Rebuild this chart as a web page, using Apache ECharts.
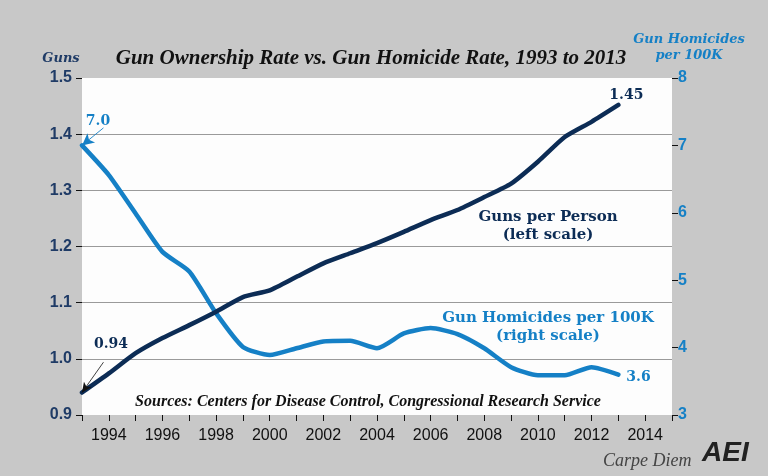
<!DOCTYPE html>
<html><head><meta charset="utf-8">
<script src="https://cdn.jsdelivr.net/npm/echarts@6/dist/echarts.min.js"></script>
<style>html,body{margin:0;padding:0;background:#c8c8c8;}#c{width:768px;height:476px;}</style>
</head><body><div id="c"></div>
<script>
const years = [1993,1994,1995,1996,1997,1998,1999,2000,2001,2002,2003,2004,2005,2006,2007,2008,2009,2010,2011,2012,2013];
const gunsPerPerson = [0.94,0.974,1.01,1.037,1.06,1.084,1.11,1.122,1.146,1.17,1.188,1.206,1.226,1.247,1.265,1.288,1.312,1.351,1.395,1.422,1.452];
const homicidesPer100K = [7.0,6.56,5.99,5.42,5.13,4.51,4.01,3.89,3.99,4.09,4.10,3.99,4.21,4.29,4.20,3.99,3.71,3.59,3.59,3.71,3.6];
const leftTicks = [0.9,1.0,1.1,1.2,1.3,1.4,1.5];
const rightTicks = [3,4,5,6,7,8];
const NAVY = '#0c2c55', BLUE = '#1580c6';
const serif = '"DejaVu Serif", serif';
const sans = '"Liberation Sans", Arial, sans-serif';

const chart = echarts.init(document.getElementById('c'), null, {renderer:'canvas'});
const gunData = years.map((y,i) => [y, gunsPerPerson[i]]);
const homData = years.map((y,i) => [y, homicidesPer100K[i]]);

chart.setOption({
  animation:false,
  backgroundColor:'#c8c8c8',
  grid:{left:82, right:96, top:78, bottom:61, show:true, backgroundColor:'#fdfdfd', borderWidth:0},
  xAxis:{type:'value', min:1993, max:2015, interval:1,
    axisLine:{show:false},
    axisTick:{show:true, length:6, lineStyle:{color:'#111'}},
    splitLine:{show:false},
    axisLabel:{color:'#111', fontFamily:sans, fontSize:16, margin:13, formatter:v => v % 2 === 0 ? String(v) : ''}},
  yAxis:[
    {type:'value', min:leftTicks[0], max:leftTicks[leftTicks.length-1], interval:0.1,
      axisLine:{show:false},
      axisTick:{show:true, length:6, lineStyle:{color:'#111'}},
      splitLine:{show:true, showMinLine:false, showMaxLine:false, lineStyle:{color:'#9a9a9a', width:1}},
      axisLabel:{color:'#1f3b66', fontFamily:sans, fontWeight:'bold', fontSize:16, margin:10, formatter:v => v.toFixed(1)}},
    {type:'value', min:rightTicks[0], max:rightTicks[rightTicks.length-1], interval:1, position:'right',
      axisLine:{show:false},
      axisTick:{show:true, length:6, lineStyle:{color:'#111'}},
      splitLine:{show:false},
      axisLabel:{color:BLUE, fontFamily:sans, fontWeight:'bold', fontSize:16, margin:6}}
  ],
  series:[
    {type:'line', name:'Guns per Person', yAxisIndex:0, data:gunData, showSymbol:false, symbol:'none', smooth:0.2,
      lineStyle:{color:NAVY, width:4.5, cap:'round', join:'round'}, z:3,
      endLabel:{show:true, formatter:() => gunsPerPerson[gunsPerPerson.length-1].toFixed(2), offset:[-17,-10],
        color:NAVY, fontFamily:serif, fontWeight:'bold', fontSize:14},
      markLine:{silent:true, symbol:['arrow','none'], symbolSize:[7,10], label:{show:false},
        lineStyle:{color:'#111', width:0.8, type:'solid'},
        data:[[{coord:[years[0], gunsPerPerson[0]]},{coord:[1993.8, 0.994]}]]}},
    {type:'line', name:'Gun Homicides per 100K', yAxisIndex:1, data:homData, showSymbol:false, symbol:'none', smooth:0.2,
      lineStyle:{color:BLUE, width:4.5, cap:'round', join:'round'}, z:2,
      endLabel:{show:true, formatter:() => homicidesPer100K[homicidesPer100K.length-1].toFixed(1), distance:8, offset:[0,3],
        color:BLUE, fontFamily:serif, fontWeight:'bold', fontSize:14},
      markLine:{silent:true, symbol:['arrow','none'], symbolSize:[9,12], label:{show:false},
        lineStyle:{color:BLUE, width:0.9, type:'solid'},
        data:[[{coord:[years[0], homicidesPer100K[0]]},{coord:[1993.8, 7.26]}]]}}
  ],
  graphic:[
    {type:'text', x:371, y:48, style:{text:'Gun Ownership Rate vs. Gun Homicide Rate, 1993 to 2013',
      fill:'#111', font:'italic bold 21px "Liberation Serif", serif', align:'center'}},
    {type:'text', x:61, y:52, style:{text:'Guns', fill:'#1f3b66', font:'italic bold 13px "DejaVu Serif", serif', align:'center'}},
    {type:'text', x:689, y:32, style:{text:'Gun Homicides\nper 100K', fill:BLUE, lineHeight:16,
      font:'italic bold 13px "DejaVu Serif", serif', align:'center'}},
    {type:'text', x:98, y:114, style:{text:'7.0', fill:BLUE, font:'bold 14px "DejaVu Serif", serif', align:'center'}},
    {type:'text', x:111, y:337, style:{text:'0.94', fill:NAVY, font:'bold 14px "DejaVu Serif", serif', align:'center'}},
    {type:'text', x:548, y:208, style:{text:'Guns per Person\n(left scale)', fill:NAVY, lineHeight:18,
      font:'bold 15px "DejaVu Serif", serif', align:'center'}},
    {type:'text', x:548, y:309, style:{text:'Gun Homicides per 100K\n(right scale)', fill:BLUE, lineHeight:18,
      font:'bold 15px "DejaVu Serif", serif', align:'center'}},
    {type:'text', x:368, y:394, style:{text:'Sources: Centers for Disease Control, Congressional Research Service',
      fill:'#111', font:'italic bold 16px "Liberation Serif", serif', align:'center'}},
    {type:'text', x:603, y:452, style:{text:'Carpe Diem', fill:'#444', font:'italic 18px "Liberation Serif", serif'}},
    {type:'text', x:702, y:439, style:{text:'AEI', fill:'#222', font:'italic 900 28px "Liberation Sans", sans-serif'}}
  ]
});
</script></body></html>
